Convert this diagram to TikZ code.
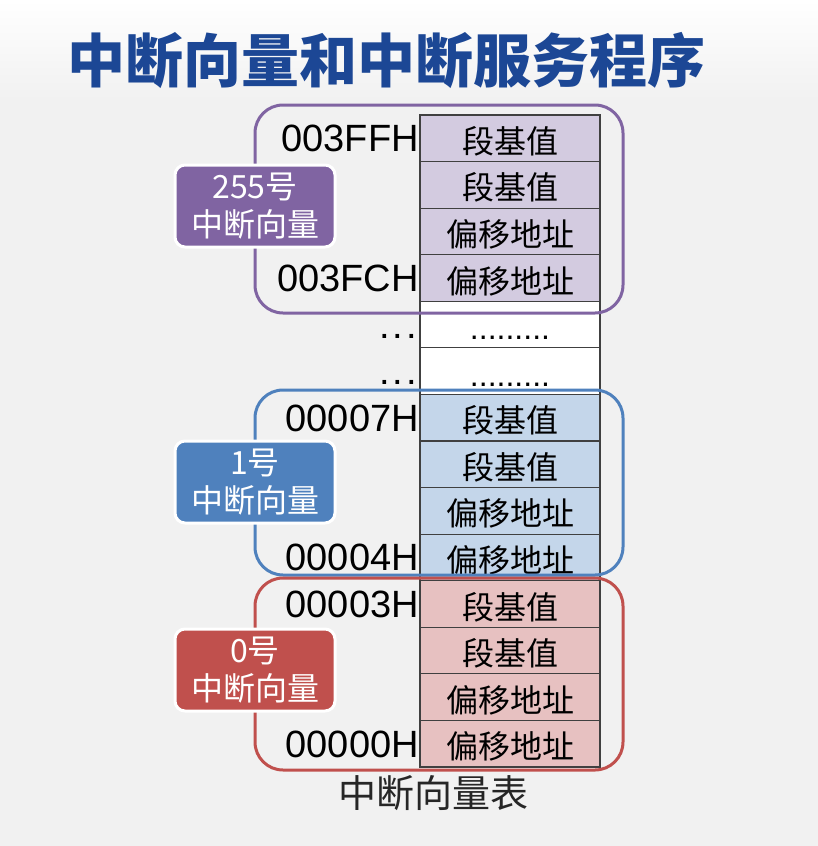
\documentclass[tikz,border=0pt]{standalone}
\usepackage{fontspec}
\setmainfont{Liberation Sans}
\newfontfamily\cjk{Noto Sans CJK SC}
\usetikzlibrary{positioning}

\definecolor{pline}{HTML}{8064A2}
\definecolor{pcell}{HTML}{D3CBE0}
\definecolor{bline}{HTML}{4F81BD}
\definecolor{bcell}{HTML}{C4D6EA}
\definecolor{rline}{HTML}{C0504D}
\definecolor{rcell}{HTML}{E7C1C1}
\definecolor{tline}{HTML}{404040}
\definecolor{tblue}{HTML}{1C4795}
\definecolor{bg}{HTML}{F1F1F1}

\begin{document}
\begin{tikzpicture}[x=1pt,y=-1pt,
    cell/.style={draw=tline,line width=1.2pt,minimum width=180pt,minimum height=46.57pt,
                 inner sep=0pt,outer sep=0pt,text height=32pt,text depth=2pt,
                 font=\cjk\fontsize{32}{38}\selectfont},
    addr/.style={inner sep=1pt,text height=27pt,text depth=0pt,
                 font=\fontsize{38}{40}\selectfont},
    grp/.style={line width=3pt,rounded corners=28pt},
    tag/.style={rounded corners=10pt,draw=white,line width=3pt,text=white,align=center,
                minimum width=160pt,minimum height=82pt,inner sep=2pt,
                font=\cjk\fontsize{32}{38}\selectfont}
  ]

  \useasboundingbox (0,0) rectangle (818,846);
  \fill[bg] (0,0) rectangle (818,846);
  \shade[top color=white,bottom color=bg] (0,0) rectangle (818,100);

  % title
  \node[font=\cjk\bfseries\fontsize{58}{60}\selectfont,text=tblue] (title) at (386,60) {中断向量和中断服务程序};

  % table column
  \node[cell,fill=pcell] (c1) at (510,138.3) {段基值};
  \node[cell,fill=pcell,below=0pt of c1] (c2) {段基值};
  \node[cell,fill=pcell,below=0pt of c2] (c3) {偏移地址};
  \node[cell,fill=pcell,below=0pt of c3] (c4) {偏移地址};
  \node[cell,fill=white,below=0pt of c4] (c5) {\rmfamily .........};
  \node[cell,fill=white,below=0pt of c5] (c6) {\rmfamily .........};
  \node[cell,fill=bcell,below=0pt of c6] (c7) {段基值};
  \node[cell,fill=bcell,below=0pt of c7] (c8) {段基值};
  \node[cell,fill=bcell,below=0pt of c8] (c9) {偏移地址};
  \node[cell,fill=bcell,below=0pt of c9] (c10) {偏移地址};
  \node[cell,fill=rcell,below=0pt of c10] (c11) {段基值};
  \node[cell,fill=rcell,below=0pt of c11] (c12) {段基值};
  \node[cell,fill=rcell,below=0pt of c12] (c13) {偏移地址};
  \node[cell,fill=rcell,below=0pt of c13] (c14) {偏移地址};

  % addresses
  \node[addr,left=0pt of c1] (a1) {003FFH};
  \node[addr,left=0pt of c4] (a4) {003FCH};
  \node[addr,left=2pt of c5] (a5) {.\kern3pt.\kern3pt.};
  \node[addr,left=2pt of c6] (a6) {.\kern3pt.\kern3pt.};
  \node[addr,left=0pt of c7] (a7) {00007H};
  \node[addr,left=0pt of c10] (a10) {00004H};
  \node[addr,left=0pt of c11] (a11) {00003H};
  \node[addr,left=0pt of c14] (a14) {00000H};

  % vector groups
  \draw[grp,draw=pline] (255,105) rectangle (623,313);
  \draw[grp,draw=bline] (255,390) rectangle (623,575);
  \draw[grp,draw=rline] (255,578) rectangle (623,770);

  \node[tag,fill=pline] (t255) at (255,206) {255号\\中断向量};
  \node[tag,fill=bline] (t1) at (255,482) {1号\\中断向量};
  \node[tag,fill=rline] (t0) at (255,670) {0号\\中断向量};

  \node[font=\cjk\fontsize{38}{40}\selectfont,text=black!85] (cap) at (433,793) {中断向量表};

\end{tikzpicture}
\end{document}
